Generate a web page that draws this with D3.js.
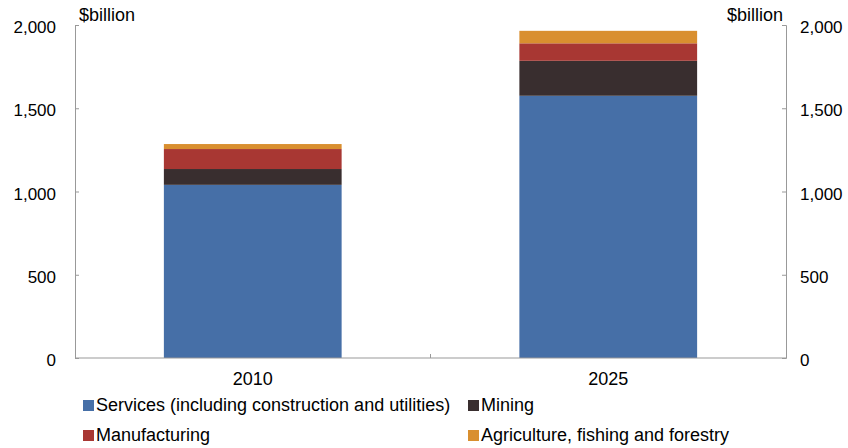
<!DOCTYPE html>
<html>
<head>
<meta charset="utf-8">
<script src="https://cdn.jsdelivr.net/npm/d3@7"></script>
<style>
  body { margin: 0; background: #fff; }
  svg text { font-family: "Liberation Sans", Arial, sans-serif; fill: #000; }
  .axis path, .axis line { stroke: #999; }
  .axis text { font-size: 17px; }
</style>
</head>
<body>
<svg width="848" height="448"></svg>
<script>
// data ($billion)
var years = ['2010', '2025'];
var seriesNames = ['Services (including construction and utilities)', 'Mining', 'Manufacturing', 'Agriculture, fishing and forestry'];
var services = [1040, 1575];
var mining = [95, 210];
var manufacturing = [120, 105];
var agriculture = [30, 75];
var yTicks = [0, 500, 1000, 1500, 2000];
var colours = ['#466fa7', '#392e2f', '#a83733', '#d98f2f'];

var rows = years.map(function(y, i) {
    return { year: y, s0: services[i], s1: mining[i], s2: manufacturing[i], s3: agriculture[i] };
});

var svg = d3.select('svg');

var x = d3.scaleBand().domain(years).range([75, 786]).paddingInner(0.5).paddingOuter(0.25);
var y = d3.scaleLinear().domain([0, 2000]).range([358, 25]);

var stack = d3.stack().keys(['s0', 's1', 's2', 's3']);
var layers = stack(rows);

svg.selectAll('g.layer')
    .data(layers)
    .enter()
    .append('g')
    .attr('class', 'layer')
    .attr('fill', function(d, i) { return colours[i]; })
    .selectAll('rect')
    .data(function(d) { return d; })
    .enter()
    .append('rect')
    .attr('x', function(d) { return x(d.data.year); })
    .attr('width', x.bandwidth())
    .attr('y', function(d) { return y(d[1]); })
    .attr('height', function(d) { return y(d[0]) - y(d[1]); });

// left axis, ticks point inward
var left = svg.append('g').attr('class', 'axis')
    .attr('transform', 'translate(75,0)')
    .call(d3.axisLeft(y).tickValues(yTicks).tickSizeInner(-4).tickSizeOuter(-4).tickPadding(19).tickFormat(d3.format(',')));
left.selectAll('text').attr('dy', '0.45em');

// right axis
var right = svg.append('g').attr('class', 'axis')
    .attr('transform', 'translate(786,0)')
    .call(d3.axisRight(y).tickValues(yTicks).tickSizeInner(-4).tickSizeOuter(-4).tickPadding(14).tickFormat(d3.format(',')));
right.selectAll('text').attr('dy', '0.45em');

// bottom axis with divider tick between the two categories
var bottom = svg.append('g').attr('class', 'axis')
    .attr('transform', 'translate(0,358)')
    .call(d3.axisBottom(x).tickSize(0).tickPadding(14));
bottom.selectAll('text').style('font-size', '18px');
bottom.select('.domain').attr('d', 'M75,0H786');
bottom.append('line')
    .attr('x1', (x('2010') + x('2025') + x.bandwidth()) / 2)
    .attr('x2', (x('2010') + x('2025') + x.bandwidth()) / 2)
    .attr('y1', 0).attr('y2', -4);

svg.append('text')
    .attr('x', 79).attr('y', 21)
    .style('font-size', '18px')
    .text('$billion');

svg.append('text')
    .attr('x', 783).attr('y', 21)
    .attr('text-anchor', 'end')
    .style('font-size', '18px')
    .text('$billion');

// legend
var legendPos = [[83, 411], [468, 411], [83, 441], [468, 441]];
var legend = svg.selectAll('g.legend')
    .data(seriesNames)
    .enter()
    .append('g')
    .attr('class', 'legend')
    .attr('transform', function(d, i) { return 'translate(' + legendPos[i][0] + ',' + legendPos[i][1] + ')'; });

legend.append('rect')
    .attr('x', 0).attr('y', -11)
    .attr('width', 11).attr('height', 11)
    .attr('fill', function(d, i) { return colours[i]; });

legend.append('text')
    .attr('x', 13).attr('y', 0)
    .style('font-size', '18px')
    .text(function(d) { return d; });
</script>
</body>
</html>
